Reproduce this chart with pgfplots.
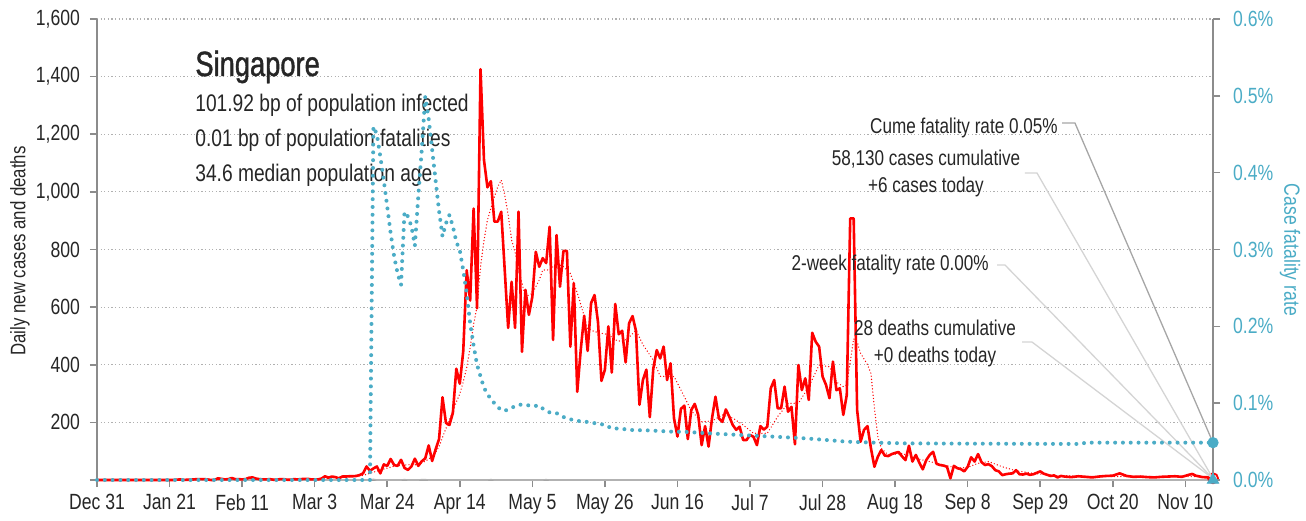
\documentclass[border=0pt]{standalone}
\usepackage{fontspec}
\setmainfont{Liberation Sans}[FakeStretch=0.8]
\newfontfamily\titlefont{Liberation Sans}[FakeStretch=0.78, FakeBold=1.2]
\usepackage{pgfplots}
\pgfplotsset{compat=1.18}
\definecolor{cfr}{HTML}{4BACC6}
\definecolor{axgray}{HTML}{8C8C8C}
\definecolor{gridgray}{HTML}{B0B0B0}
\definecolor{txt}{HTML}{262626}
\definecolor{lead1}{HTML}{A6A6A6}
\definecolor{lead2}{HTML}{D4D4D4}
\newcommand{\tk}{\fontsize{11}{13}\selectfont}
\newcommand{\ann}{\fontsize{10.7}{13.5}\selectfont}
\newcommand{\info}{\fontsize{12}{14}\selectfont}

\begin{document}
\begin{tikzpicture}
% ---- left axis: daily new cases ----
\begin{axis}[
  name=main, scale only axis, width=558pt, height=230.5pt,
  xmin=0, xmax=323, ymin=0, ymax=1600,
  axis x line*=bottom, axis y line*=left,
  axis line style={draw=axgray, line width=1pt, -},
  tick align=outside, major tick length=3.5pt,
  tick style={draw=axgray, line width=0.8pt},
  xtick={0,21,...,315},
  xticklabels={Dec 31,Jan 21,Feb 11,Mar 3,Mar 24,Apr 14,May 5,May 26,Jun 16,Jul 7,Jul 28,Aug 18,Sep 8,Sep 29,Oct 20,Nov 10},
  ytick={0,200,...,1600},
  yticklabels={{},200,400,600,800,{1,000},{1,200},{1,400},{1,600}},
  ymajorgrids,
  grid style={gridgray, line width=0.6pt, dash pattern=on 0.6pt off 1.2pt},
  ticklabel style={font=\tk, text=txt},
  yticklabel style={xshift=-1.5pt},
  clip=false,
]
% deaths (near zero)
\addplot[gray!60, line width=0.8pt] coordinates {
 (0,0)(79,0)(80,2)(81,0)(88,0)(89,1)(90,0)(93,0)(94,1)(95,1)(96,0)(113,0)(114,1)(115,0)(129,0)(130,1)(131,0)(323,0)};
% 7-day average (red dotted)
\addplot[red, line width=0.7pt, dash pattern=on 0pt off 1.6pt, line cap=round] coordinates {
 (0,0)(22,0)(30,1.5)(35,2)(40,3.5)(45,5.5)(50,4)(55,2)(60,2.5)(63,2.5)(66,5)(70,10)(74,12)(77,16)
 (80,27)(83,38)(86,48)(90,53)(93,53)(96,72)(98,95)(99,116)(101,179)(103,240)(105,300)(106,340)
 (107,390)(108,460)(109,540)(110,602)(111,740)(112,830)(113,902)(115,983)(116,1018)(117,1041)
 (118,990)(119,920)(120,833)(121,790)(122,740)(123,683)(124,636)(126,648)(128,694)(129,729)
 (131,729)(133,752)(135,740)(137,717)(139,650)(140,610)(142,525)(144,515)(146,509)(148,505)
 (150,486)(152,480)(154,495)(156,520)(158,470)(161,416)(163,360)(167,359)(170,289)(172,240)
 (175,202)(178,205)(181,226)(184,215)(187,191)(190,162)(194,162)(197,220)(200,266)(203,266)
 (206,324)(209,399)(212,393)(214,340)(216,324)(217,330)(219,490)(220,480)(221,440)(223,400)
 (224,370)(225,250)(226,150)(227,110)(229,87)(233,92)(237,75)(241,64)(245,52)(249,41)(252,44)
 (255,58)(258,64)(262,46)(266,32)(271,23)(278,15)(290,12)(323,12)};
% daily new cases (red)
\addplot[red, line width=1.3pt, line join=round] coordinates {
 (0,0)(22,0)(23,1)(24,2)(25,0)(26,1)(27,1)(28,2)(29,3)(30,3)(31,3)(32,2)(33,0)(34,0)(35,6)(36,4)
 (37,2)(38,3)(39,7)(40,3)(41,3)(42,2)(43,3)(44,8)(45,9)(46,5)(47,3)(48,2)(49,2)(50,3)(51,1)(52,1)
 (53,3)(54,3)(55,1)(56,1)(57,3)(58,2)(59,3)(60,4)(61,4)(62,2)(63,2)(64,2)(65,5)(66,13)(67,8)
 (68,12)(69,10)(70,6)(71,12)(72,12)(73,13)(74,13)(75,14)(76,17)(77,23)(78,47)(79,32)(80,40)
 (81,47)(82,23)(83,54)(84,49)(85,73)(86,52)(87,49)(88,70)(89,42)(90,35)(91,47)(92,74)(93,49)
 (94,65)(95,75)(96,120)(97,66)(98,106)(99,142)(100,287)(101,198)(102,191)(103,233)(104,386)
 (105,334)(106,447)(107,728)(108,623)(109,942)(110,596)(111,1426)(112,1111)(113,1016)(114,1037)
 (115,897)(116,897)(117,931)(118,730)(119,528)(120,688)(121,528)(122,931)(123,445)(124,660)
 (125,573)(126,636)(127,792)(128,740)(129,770)(130,753)(131,879)(132,486)(133,850)(134,671)
 (135,795)(136,795)(137,463)(138,683)(139,306)(140,451)(141,570)(142,448)(143,614)(144,642)
 (145,548)(146,344)(147,383)(148,533)(149,373)(150,611)(151,506)(152,518)(153,408)(154,544)
 (155,569)(156,517)(157,261)(158,347)(159,383)(160,218)(161,386)(162,451)(163,422)(164,463)
 (165,347)(166,405)(167,214)(168,151)(169,247)(170,258)(171,142)(172,243)(173,264)(174,226)
 (175,121)(176,187)(177,116)(178,214)(179,289)(180,214)(181,202)(182,245)(183,220)(184,191)
 (185,174)(186,185)(187,139)(188,139)(189,156)(190,150)(191,121)(192,187)(193,175)(194,185)
 (195,318)(196,347)(197,249)(198,249)(199,324)(200,237)(201,254)(202,124)(203,399)(204,312)
 (205,353)(206,278)(207,511)(208,480)(209,463)(210,359)(211,330)(212,284)(213,411)(214,312)
 (215,318)(216,226)(217,295)(218,908)(219,908)(220,243)(221,133)(222,174)(223,187)(224,110)
 (225,46)(226,81)(227,104)(228,85)(229,83)(230,90)(231,94)(232,97)(233,82)(234,69)(235,119)
 (236,64)(237,87)(238,60)(239,37)(240,69)(241,87)(242,98)(243,56)(244,52)(245,50)(246,46)
 (247,6)(248,49)(249,41)(250,38)(251,30)(252,46)(253,79)(254,64)(255,90)(256,62)(257,52)
 (258,55)(259,48)(260,34)(261,30)(262,17)(263,20)(264,22)(265,23)(266,34)(267,20)(268,19)
 (269,22)(270,18)(271,20)(272,25)(273,30)(274,22)(275,18)(276,14)(277,16)(278,9)(279,14)
 (280,12)(282,10)(284,13)(286,11)(288,9)(290,12)(292,14)(294,15)(296,23)(298,14)(300,11)
 (302,12)(304,10)(306,9)(308,11)(310,12)(312,13)(314,11)(316,18)(317,21)(318,15)(320,10)
 (322,9)(323,6)};
\addplot[only marks, mark=o, mark size=2.5pt, red, mark options={line width=0.9pt}] coordinates {(323,6)};

% text
\node[anchor=west, inner sep=0pt, text=txt, font=\titlefont\fontsize{17.5}{20}\selectfont] at (rel axis cs:0.0878,0.896) {Singapore};
\node[anchor=west, inner sep=0pt, text=txt, font=\info] at (rel axis cs:0.0878,0.8134) {101.92 bp of population infected};
\node[anchor=west, inner sep=0pt, text=txt, font=\info] at (rel axis cs:0.0878,0.7375) {0.01 bp of population fatalities};
\node[anchor=west, inner sep=0pt, text=txt, font=\info] at (rel axis cs:0.0878,0.6616) {34.6 median population age};

\node[anchor=east, text=txt, font=\ann, inner sep=1pt] at (rel axis cs:0.8629,0.7636) {Cume fatality rate 0.05\%};
\node[align=center, text=txt, font=\ann, inner sep=1pt] at (rel axis cs:0.7428,0.6643) {58,130 cases cumulative\\+6 cases today};
\node[anchor=east, text=txt, font=\ann, inner sep=1pt] at (rel axis cs:0.8011,0.4664) {2-week fatality rate 0.00\%};
\node[align=center, text=txt, font=\ann, inner sep=1pt] at (rel axis cs:0.7509,0.2972) {28 deaths cumulative\\+0 deaths today};

\node[rotate=90, text=txt, font=\fontsize{10.5}{12}\selectfont] at (rel axis cs:-0.0690,0.497) {Daily new cases and deaths};
\node[rotate=-90, text=cfr, font=\fontsize{11}{13}\selectfont] at (rel axis cs:1.069,0.499) {Case fatality rate};
\end{axis}

% ---- right axis: case fatality rate ----
\begin{axis}[
  scale only axis, width=558pt, height=230.5pt,
  xmin=0, xmax=323, ymin=0, ymax=0.6,
  axis y line*=right, axis x line=none,
  axis line style={draw=axgray, line width=1pt, -},
  tick align=outside, major tick length=3.5pt,
  tick style={draw=axgray, line width=0.8pt},
  ytick={0,0.1,0.2,0.3,0.4,0.5,0.6},
  yticklabels={0.0\%,0.1\%,0.2\%,0.3\%,0.4\%,0.5\%,0.6\%},
  yticklabel style={font=\tk, text=cfr, xshift=3pt},
  clip=false,
]
% leader lines
\draw[lead1, line width=0.65pt] (rel axis cs:0.8647,0.7744) -- (rel axis cs:0.8763,0.7744) -- (rel axis cs:1,0.081);
\draw[lead2, line width=0.65pt] (rel axis cs:0.8315,0.6659) -- (rel axis cs:0.8423,0.6659) -- (rel axis cs:1,0.003);
\draw[lead2, line width=0.65pt] (rel axis cs:0.8065,0.4664) -- (rel axis cs:0.8136,0.4664) -- (rel axis cs:1,0.003);
\draw[lead2, line width=0.65pt] (rel axis cs:0.8289,0.2993) -- (rel axis cs:0.8378,0.2993) -- (rel axis cs:1,0.003);

\addplot[cfr, line width=2pt, dash pattern=on 0pt off 3.9pt, line cap=round] coordinates {
 (0,0)(79,0)(80,0.460)(81,0.450)(82,0.421)(83,0.390)(84,0.356)(85,0.321)(86,0.291)(87,0.269)
 (88,0.254)(89,0.349)(90,0.343)(91,0.330)(92,0.305)(93,0.370)(94,0.430)(95,0.499)(96,0.470)
 (97,0.430)(98,0.390)(99,0.350)(100,0.317)(101,0.334)(102,0.345)(103,0.330)(104,0.310)
 (105,0.299)(106,0.273)(107,0.243)(108,0.204)(109,0.175)(110,0.150)(111,0.135)(112,0.120)
 (113,0.112)(114,0.105)(115,0.100)(116,0.095)(117,0.091)(118,0.090)(119,0.092)(120,0.094)
 (121,0.096)(122,0.098)(124,0.098)(125,0.097)(126,0.096)(128,0.097)(129,0.093)(130,0.090)
 (131,0.088)(133,0.087)(135,0.082)(137,0.079)(139,0.077)(141,0.076)(143,0.075)(145,0.073)
 (147,0.072)(149,0.067)(151,0.067)(153,0.066)(155,0.065)(160,0.0645)(166,0.063)(171,0.0625)
 (176,0.061)(186,0.0586)(196,0.0564)(205,0.0542)(211,0.0521)(217,0.0499)(225,0.0486)
 (234,0.0477)(253,0.0473)(285,0.0469)(286,0.0486)(323,0.0486)};
\addplot[only marks, mark=*, mark size=2.6pt, cfr] coordinates {(323,0.0486)};
\addplot[only marks, mark=triangle*, mark size=3.3pt, cfr] coordinates {(323,0)};
\end{axis}
\pgfresetboundingbox
\path ([shift={(-48.5pt,-20pt)}]main.south west) rectangle ([shift={(46.5pt,9.5pt)}]main.north east);
\end{tikzpicture}
\end{document}
